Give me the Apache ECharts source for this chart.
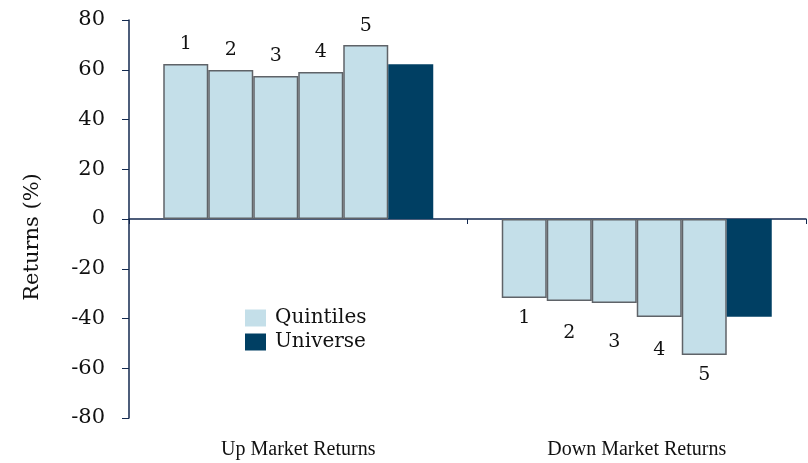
<!DOCTYPE html>
<html>
<head>
<meta charset="utf-8">
<script src="https://cdn.jsdelivr.net/npm/echarts@6/dist/echarts.min.js"></script>
<style>
  html,body{margin:0;padding:0;background:#fff;}
  #chart{width:808px;height:463px;}
</style>
</head>
<body>
<div id="chart"></div>
<script>
// categories and values
const categories = ['Up Market Returns', 'Down Market Returns']
const quintileNames = ['1', '2', '3', '4', '5']
// one array per quintile: [up, down]
const q1 = [62.3, -31.8]
const q2 = [59.9, -33.0]
const q3 = [57.5, -33.8]
const q4 = [59.1, -39.4]
const q5 = [69.9, -54.7]
const universe = [62.2, -39.3]
const yTicks = { min: -80, max: 80, interval: 20 }

// extra drop of the quintile numbers under the down bars (as placed in the original)
const downLabelShift = [0, 12, 19, 14, 0]

const chart = echarts.init(document.getElementById('chart'))
const serif = 'Liberation Serif'
const wide = 'DejaVu Serif'
const axisColor = '#13294f'

const quintiles = [q1, q2, q3, q4, q5]
const series = quintiles.map((vals, i) => ({
  name: 'Quintiles',
  type: 'bar',
  xAxisIndex: 0,
  barWidth: 45,
  barGap: '0%',
  data: vals.map(v => ({
    value: v,
    label: {
      position: v >= 0 ? 'top' : 'bottom',
      offset: [0, v >= 0 ? 0 : downLabelShift[i]]
    }
  })),
  itemStyle: { color: '#c4dfe9', borderColor: '#5f6368', borderWidth: 1.5 },
  label: {
    show: true,
    distance: 10,
    formatter: quintileNames[i],
    fontFamily: wide,
    fontSize: 19,
    color: '#111'
  }
}))
series.push({
  name: 'Universe',
  type: 'bar',
  xAxisIndex: 0,
  barWidth: 45,
  barGap: '0%',
  data: universe,
  itemStyle: { color: '#003f63' }
})

chart.setOption({
  animation: false,
  grid: { left: 129, right: 2, top: 20, bottom: 45 },
  legend: {
    data: ['Quintiles', 'Universe'],
    orient: 'vertical',
    left: 240,
    top: 303,
    itemWidth: 21,
    itemHeight: 17,
    itemGap: 4,
    icon: 'rect',
    itemStyle: { borderWidth: 0 },
    textStyle: { fontFamily: wide, fontSize: 20, lineHeight: 20, color: '#111', padding: [0, 0, 0, 4] }
  },
  xAxis: [
    {
      type: 'category',
      data: categories,
      axisLine: { onZero: true, lineStyle: { color: axisColor, width: 1.5 } },
      axisTick: { show: true, length: 5, inside: false, lineStyle: { color: axisColor } },
      axisLabel: { show: false }
    },
    {
      type: 'category',
      data: categories,
      position: 'bottom',
      axisLine: { show: false },
      axisTick: { show: false },
      axisLabel: { fontFamily: serif, fontSize: 20, color: '#111', margin: 22 }
    }
  ],
  yAxis: {
    type: 'value',
    min: yTicks.min,
    max: yTicks.max,
    interval: yTicks.interval,
    name: 'Returns (%)',
    nameLocation: 'middle',
    nameGap: 86,
    nameTextStyle: { fontFamily: wide, fontSize: 21, color: '#111', padding: [0, 36, 0, 0] },
    axisLine: { show: true, lineStyle: { color: axisColor, width: 1.5 } },
    axisTick: { show: true, length: 7, lineStyle: { color: axisColor } },
    splitLine: { show: false },
    axisLabel: { fontFamily: wide, fontSize: 21, color: '#111', margin: 24 }
  },
  series: series
})
</script>
</body>
</html>
